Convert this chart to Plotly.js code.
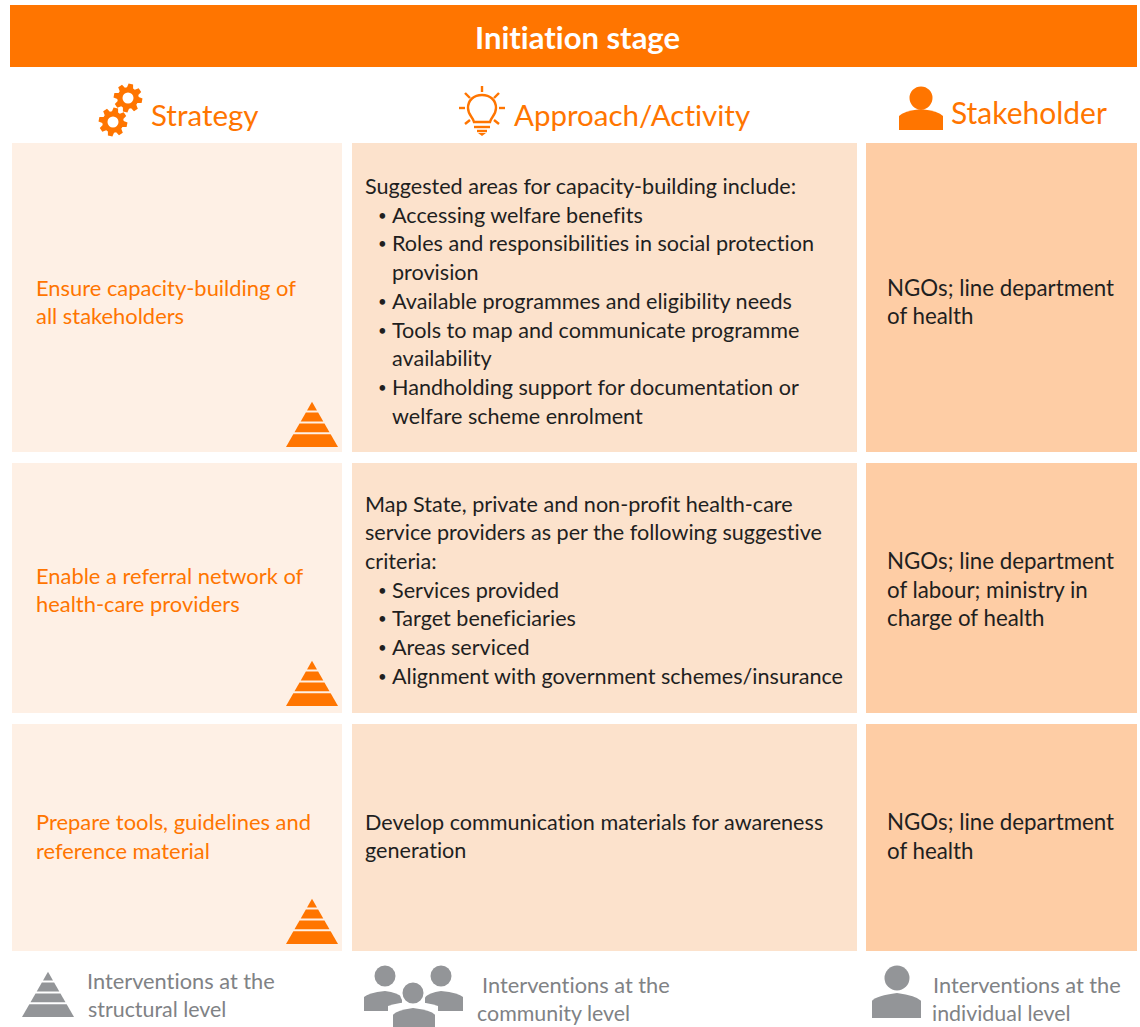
<!DOCTYPE html>
<html><head><meta charset="utf-8">
<script src="https://cdn.plot.ly/plotly-3.0.1.min.js"></script>
<style>html,body{margin:0;padding:0;background:#fff}#c{width:1140px;height:1027px}
text{font-variant-ligatures:none!important;font-feature-settings:"liga" 0,"clig" 0!important}</style>
</head><body><div id="c"></div>
<script>
const stageTitle = "Initiation stage";
const columnHeads = ["Strategy", "Approach/Activity", "Stakeholder"];
const strategies = [
  ["Ensure capacity-building of", "all stakeholders"],
  ["Enable a referral network of", "health-care providers"],
  ["Prepare tools, guidelines and", "reference material"]
];
const approaches = [
  ["Suggested areas for capacity-building include:", "• Accessing welfare benefits",
   "• Roles and responsibilities in social protection", "~provision",
   "• Available programmes and eligibility needs", "• Tools to map and communicate programme",
   "~availability", "• Handholding support for documentation or", "~welfare scheme enrolment"],
  ["Map State, private and non-profit health-care", "service providers as per the following suggestive",
   "criteria:", "• Services provided", "• Target beneficiaries", "• Areas serviced",
   "• Alignment with government schemes/insurance"],
  ["Develop communication materials for awareness", "generation"]
];
const stakeholders = [
  ["NGOs; line department", "of health"],
  ["NGOs; line department", "of labour; ministry in", "charge of health"],
  ["NGOs; line department", "of health"]
];
const legendLabels = [
  ["Interventions at the", "structural level"],
  ["Interventions at the", "community level"],
  ["Interventions at the", "individual level"]
];

const FONT = "Lato, 'Open Sans', sans-serif";
const ORANGE = "#ff7500", DARK = "#1f1f1f", GREY = "#808285", ICON = "#939598";
const shapes = [], ann = [];
const rect = (x0,y0,x1,y1,c) => shapes.push({type:"rect",xref:"x",yref:"y",x0,y0,x1,y1,fillcolor:c,line:{width:0},layer:"below"});
const path = (d,c) => shapes.push({type:"path",xref:"x",yref:"y",path:d,fillcolor:c,line:{width:0}});
const circle = (cx,cy,r,c) => shapes.push({type:"circle",xref:"x",yref:"y",x0:cx-r,y0:cy-r,x1:cx+r,y1:cy+r,fillcolor:c,line:{width:0}});
const text = (x,y,t,color,size,anchor="left",weight=400) => ann.push({xref:"x",yref:"y",x,y,text:t,showarrow:false,xanchor:anchor,yanchor:"middle",align:anchor,font:{family:FONT,size,color,weight},borderpad:0,borderwidth:0});

function pyramid(cx,base,c){
  const bands=[[0,8.7],[10.7,19.7],[21.7,30.5],[32.5,45.3]];
  const H=45.3,k=26/45.3,top=base-H;
  bands.forEach(([a,b])=>path(`M${cx-a*k},${top+a}L${cx+a*k},${top+a}L${cx+b*k},${top+b}L${cx-b*k},${top+b}Z`,c));
}
function gear(cx,cy,R,hole){
  const n=8; let d="";
  for(let i=0;i<n;i++){
    const a=i/n*2*Math.PI+0.2, w=0.16, g=0.2;
    const p=(r,t)=>`${(cx+r*Math.cos(t)).toFixed(1)},${(cy+r*Math.sin(t)).toFixed(1)}`;
    d+=(i?"L":"M")+p(R*0.74,a-g-w*0.6)+"L"+p(R,a-w)+"L"+p(R,a+w)+"L"+p(R*0.74,a+g+w*0.6);
  }
  path(d+"Z",ORANGE);
  circle(cx,cy,hole,"#fff");
}
function person(cx,headY,headR,x0,x1,top,bottom,c){
  circle(cx,headY,headR,c);
  const w=x1-x0;
  path(`M${x0},${bottom}L${x0},${top+w*0.16}Q${x0+w*0.1},${top+w*0.05} ${cx},${top}Q${x1-w*0.1},${top+w*0.05} ${x1},${top+w*0.16}L${x1},${bottom}Z`,c);
}

/* banner + cells */
const cols=[[12,342],[352,857],[866,1137]], rows=[[143,452],[463,713],[724,951]], fills=["#fef0e5","#fce2cc","#fecda5"];
rect(10,5,1137,67,ORANGE);
rows.forEach(r=>cols.forEach((c,i)=>rect(c[0],r[0],c[1],r[1],fills[i])));

/* heads */
text(577.5,37,stageTitle,"#fff",31,"center",700);
text(151,114.5,columnHeads[0],ORANGE,29.5);
text(514,114.5,columnHeads[1],ORANGE,29.5);
text(951,111.5,columnHeads[2],ORANGE,30);

/* head icons */
gear(128,98,14.5,5.5); gear(113,122,14.5,5.5);
const stroke={type:"path",xref:"x",yref:"y",line:{color:ORANGE,width:2.4}};
shapes.push(Object.assign({},stroke,{path:"M474,122C473,117 468,115 468,108C468,100 474,95 482,95C490,95 496,100 496,108C496,115 491,117 490,122Z"}));
[[482,86,482,92],[459,108,465,108],[499,108,505,108],[465,93,470,98],[499,93,494,98],[465,124,470,120],[499,124,494,120],[474,127,490,127],[477,131,487,131]].forEach(s=>
  shapes.push(Object.assign({},stroke,{path:`M${s[0]},${s[1]}L${s[2]},${s[3]}`})));
path("M478,133L486,133L482,136Z",ORANGE);
person(921,98,11.5,899,943,109,130,ORANGE);

/* body text */
const lineH=28.7, SIZE_S=21.9, SIZE_A=21.6, SIZE_K=22.3, firstA=[186,503.5,821.5], firstS=[287,575,821.5], firstK=[287,560.5,821.5];
strategies.forEach((ls,r)=>ls.forEach((t,i)=>text(36,firstS[r]+i*lineH,t,ORANGE,SIZE_S)));
stakeholders.forEach((ls,r)=>ls.forEach((t,i)=>text(887,firstK[r]+i*lineH,t,DARK,SIZE_K)));
approaches.forEach((ls,r)=>ls.forEach((t,i)=>{
  const y=firstA[r]+i*lineH;
  if(t[0]==="•"){text(378,y,"•",DARK,15);text(392,y,t.slice(2),DARK,SIZE_A);}
  else if(t[0]==="~"){text(392,y,t.slice(1),DARK,SIZE_A);}
  else text(365,y,t,DARK,SIZE_A);
}));
[447,706,944].forEach(b=>pyramid(312,b,ORANGE));

/* footer legend */
pyramid(48,1017,ICON);
[[87,980,88,1009],[482,984,477,1013],[933,984,932,1013]].forEach((p,i)=>{
  text(p[0],p[1],legendLabels[i][0],GREY,21.8);
  text(p[2],p[3],legendLabels[i][1],GREY,21.4);
});
person(385,976,10.5,364,402,991,1011,ICON);
person(441,976,10.5,425,463,991,1011,ICON);
circle(413,993,13,"#fff");
path("M388,1027L388,1006Q400,1002 413,1002Q426,1002 438,1006L438,1027Z","#fff");
person(413,993,10.5,393,435,1008,1028,ICON);
person(897,978,12.5,872,921,993,1018,ICON);

Plotly.newPlot("c",[{type:"scatter",x:[],y:[],hoverinfo:"skip"}],{
  width:1140,height:1027,margin:{l:0,r:0,t:0,b:0,pad:0},paper_bgcolor:"#fff",plot_bgcolor:"#fff",showlegend:false,
  xaxis:{range:[0,1140],visible:false,fixedrange:true},
  yaxis:{range:[1027,0],visible:false,fixedrange:true},
  shapes,annotations:ann
},{displayModeBar:false,staticPlot:true});
</script></body></html>
